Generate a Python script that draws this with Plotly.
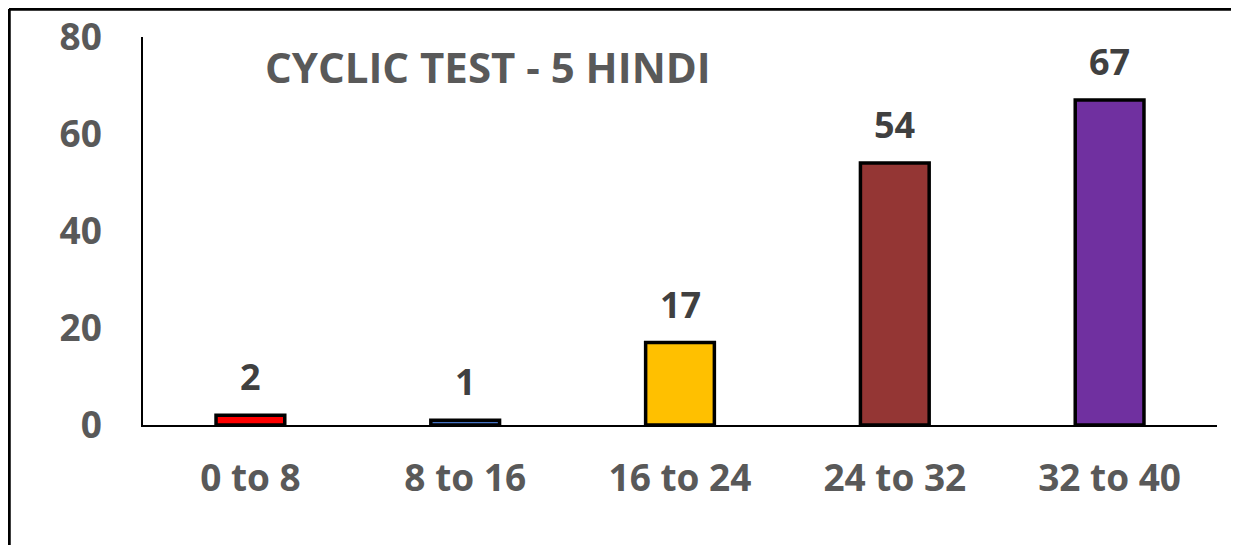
import plotly.graph_objects as go

categories = ["0 to 8", "8 to 16", "16 to 24", "24 to 32", "32 to 40"]
counts = [2, 1, 17, 54, 67]
bar_colors = ["#FF0000", "#4472C4", "#FFC000", "#943634", "#7030A0"]
y_ticks = [0, 20, 40, 60, 80]

font_name = "Open Sans"

# the page body adds an 8px margin, so plot area / border positions are shifted by it
L, T, W, H = 135, 29, 1074, 388

fig = go.Figure()
fig.add_trace(go.Bar(
    x=categories,
    y=counts,
    width=0.32,
    marker=dict(color=bar_colors, line=dict(color="black", width=3.5)),
    hoverinfo="x+y",
))

# value labels above the bars
for c, v in zip(categories, counts):
    fig.add_annotation(x=c, y=v, text=str(v), showarrow=False,
                       yanchor="bottom", yshift=12,
                       font=dict(family=font_name, size=36, color="#404040", weight="bold"))

# outer chart border (only left and top are visible in the crop)
bx = (1 - L) / W
by = (T + H - 1) / H
fig.add_shape(type="line", xref="paper", yref="paper",
              x0=bx, x1=bx, y0=-0.5, y1=by,
              line=dict(color="black", width=3.5))
fig.add_shape(type="line", xref="paper", yref="paper",
              x0=bx, x1=1.1, y0=by, y1=by,
              line=dict(color="black", width=3.5))

fig.update_layout(
    width=1239, height=545,
    margin=dict(l=L, r=1239 - L - W, t=T, b=545 - T - H, autoexpand=False),
    paper_bgcolor="white", plot_bgcolor="white",
    showlegend=False,
    title=dict(text="CYCLIC TEST - 5 HINDI", x=257 / 1239, xanchor="left",
               y=1 - 60 / 545, yanchor="middle", pad=dict(l=0, r=0, t=0, b=0),
               font=dict(family=font_name, size=42, color="#595959", weight="bold")),
    font=dict(family=font_name, color="#595959"),
)
fig.update_xaxes(showline=True, linecolor="black", linewidth=1.5, ticks="",
                 automargin=False,
                 tickfont=dict(family=font_name, size=37, color="#595959", weight="bold"),
                 ticklabelstandoff=20, showgrid=False, zeroline=False)
fig.update_yaxes(range=[0, 80], tickvals=y_ticks, showline=True, linecolor="black",
                 linewidth=1.5, showgrid=False, zeroline=False, ticks="",
                 automargin=False,
                 tickfont=dict(family=font_name, size=37, color="#595959", weight="bold"),
                 ticklabelstandoff=32)

fig.write_html("out.html")
